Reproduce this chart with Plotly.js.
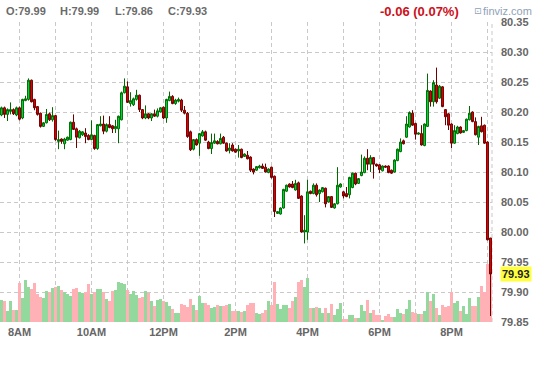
<!DOCTYPE html>
<html><head><meta charset="utf-8">
<script src="https://cdn.plot.ly/plotly-3.0.1.min.js"></script>
<style>html,body{margin:0;padding:0;background:#fff;}#chart{width:536px;height:370px;}</style>
</head><body><div id="chart"></div>
<script>
// ---- data (5-minute bars starting 07:30) ----
const sessionDate = '2024-01-02';
const firstBarMinute = 7 * 60 + 30;
const barMinutes = 5;

const openP = [80.195,80.207,80.196,80.201,80.204,80.195,80.207,80.19,80.219,80.221,
80.253,80.221,80.209,80.198,80.176,80.182,80.197,80.187,80.194,80.151,
80.155,80.147,80.153,80.154,80.183,80.172,80.157,80.162,80.165,80.161,
80.154,80.161,80.139,80.177,80.18,80.168,80.179,80.177,80.172,80.172,
80.187,80.232,80.242,80.214,80.212,80.221,80.228,80.204,80.19,80.197,
80.19,80.197,80.193,80.2,80.208,80.19,80.219,80.226,80.214,80.218,
80.22,80.203,80.198,80.167,80.138,80.154,80.148,80.16,80.167,80.15,
80.139,80.148,80.151,80.147,80.158,80.148,80.136,80.145,80.138,80.135,
80.138,80.126,80.128,80.125,80.105,80.103,80.107,80.11,80.108,80.099,
80.108,80.093,80.031,80.03,80.04,80.068,80.08,80.08,80.07,80.082,
80.06,80.0,80.0,80.068,80.064,80.078,80.064,80.067,80.073,80.05,
80.059,80.04,80.047,80.075,80.067,80.064,80.062,80.074,80.098,80.081,
80.094,80.099,80.123,80.113,80.124,80.113,80.112,80.102,80.11,80.11,
80.103,80.1,80.119,80.134,80.152,80.158,80.175,80.198,80.181,80.163,
80.164,80.144,80.176,80.235,80.217,80.245,80.223,80.242,80.204,80.197,
80.18,80.148,80.164,80.175,80.166,80.169,80.187,80.2,80.184,80.158,
80.177,80.178,80.15,79.99];

const highP = [80.209,80.209,80.206,80.216,80.206,80.209,80.209,80.222,80.227,80.256,
80.254,80.222,80.21,80.199,80.183,80.205,80.199,80.208,80.195,80.169,
80.156,80.157,80.159,80.184,80.196,80.174,80.17,80.168,80.173,80.163,
80.186,80.162,80.18,80.193,80.194,80.181,80.193,80.178,80.187,80.194,
80.234,80.256,80.251,80.233,80.224,80.237,80.229,80.205,80.211,80.198,
80.198,80.204,80.206,80.208,80.209,80.222,80.234,80.228,80.222,80.224,
80.222,80.21,80.2,80.169,80.155,80.156,80.165,80.17,80.169,80.152,
80.164,80.164,80.153,80.164,80.16,80.149,80.148,80.148,80.139,80.145,
80.139,80.131,80.135,80.126,80.106,80.11,80.112,80.114,80.114,80.106,
80.109,80.094,80.035,80.041,80.072,80.079,80.081,80.085,80.087,80.084,
80.061,80.028,80.087,80.069,80.081,80.081,80.071,80.075,80.074,80.06,
80.06,80.048,80.108,80.081,80.068,80.075,80.092,80.099,80.099,80.09,
80.129,80.126,80.138,80.128,80.125,80.114,80.113,80.111,80.111,80.111,
80.104,80.121,80.139,80.156,80.154,80.193,80.201,80.203,80.182,80.166,
80.178,80.181,80.264,80.236,80.253,80.274,80.245,80.243,80.205,80.198,
80.181,80.178,80.177,80.176,80.17,80.189,80.21,80.201,80.191,80.177,
80.192,80.179,80.151,79.99];

const lowP = [80.193,80.19,80.185,80.196,80.195,80.193,80.186,80.188,80.218,80.219,
80.216,80.203,80.194,80.174,80.175,80.181,80.185,80.184,80.152,80.138,
80.147,80.138,80.152,80.153,80.17,80.14,80.156,80.16,80.148,80.153,
80.153,80.137,80.137,80.176,80.163,80.166,80.173,80.165,80.165,80.148,
80.186,80.231,80.215,80.209,80.21,80.219,80.2,80.188,80.188,80.188,
80.185,80.192,80.191,80.199,80.188,80.182,80.218,80.213,80.212,80.216,
80.2,80.196,80.157,80.135,80.136,80.144,80.127,80.159,80.152,80.138,
80.13,80.147,80.146,80.146,80.147,80.134,80.131,80.134,80.132,80.124,
80.123,80.125,80.121,80.1,80.096,80.102,80.106,80.105,80.099,80.098,
80.089,80.025,80.03,80.029,80.039,80.067,80.074,80.073,80.069,80.055,
79.999,79.981,79.987,80.063,80.063,80.059,80.05,80.066,80.041,80.049,
80.04,80.039,80.046,80.074,80.056,80.058,80.056,80.073,80.078,80.08,
80.093,80.098,80.103,80.1,80.089,80.109,80.098,80.101,80.107,80.098,
80.097,80.099,80.118,80.133,80.146,80.157,80.174,80.177,80.154,80.162,
80.144,80.143,80.175,80.209,80.209,80.214,80.222,80.208,80.178,80.17,
80.14,80.147,80.163,80.164,80.165,80.168,80.186,80.183,80.161,80.145,
80.166,80.147,79.986,79.86];

const closeP = [80.207,80.196,80.204,80.204,80.197,80.207,80.188,80.221,80.222,80.253,
80.217,80.207,80.196,80.176,80.182,80.196,80.187,80.194,80.154,80.154,
80.151,80.155,80.158,80.183,80.171,80.158,80.168,80.167,80.159,80.154,
80.162,80.139,80.179,80.18,80.168,80.179,80.174,80.172,80.176,80.193,
80.232,80.243,80.216,80.219,80.222,80.228,80.204,80.19,80.197,80.19,
80.197,80.193,80.202,80.207,80.19,80.221,80.226,80.214,80.22,80.221,
80.203,80.198,80.159,80.137,80.154,80.145,80.164,80.167,80.153,80.139,
80.149,80.152,80.147,80.156,80.148,80.135,80.14,80.135,80.133,80.138,
80.124,80.13,80.122,80.103,80.1,80.109,80.11,80.106,80.1,80.105,
80.091,80.034,80.034,80.04,80.071,80.078,80.075,80.074,80.081,80.056,
80.0,80.003,80.067,80.064,80.078,80.062,80.07,80.074,80.047,80.059,
80.041,80.047,80.078,80.08,80.06,80.059,80.091,80.098,80.08,80.089,
80.1,80.123,80.113,80.124,80.113,80.11,80.104,80.11,80.108,80.099,
80.098,80.12,80.138,80.15,80.147,80.18,80.199,80.178,80.163,80.165,
80.145,80.18,80.236,80.217,80.249,80.217,80.243,80.209,80.192,80.178,
80.148,80.169,80.175,80.165,80.169,80.188,80.198,80.184,80.162,80.176,
80.167,80.148,79.987,79.93];

const volume = [22,21,11,21,12,12,39,24,42,35,33,39,28,25,24,31,30,34,35,36,
32,30,28,26,33,34,30,29,30,38,28,30,33,33,30,23,21,31,32,40,
39,38,32,28,31,27,24,25,31,29,21,16,22,23,21,20,16,13,9,9,
18,17,15,23,17,12,26,19,19,17,14,15,17,16,16,17,18,11,11,11,
10,11,17,19,19,9,8,9,12,21,17,40,18,13,17,17,14,21,25,40,
42,35,44,14,14,15,14,9,14,9,18,7,13,19,3,3,7,7,4,4,
17,11,22,9,12,7,7,2,6,8,5,5,13,9,8,13,22,10,9,8,
8,11,30,21,28,14,7,17,15,16,30,19,21,11,16,8,24,16,16,25,
36,30,58,58];

const hourTicks = ['08:00','09:00','10:00','11:00','12:00','13:00','14:00','15:00','16:00','17:00','18:00','19:00','20:00','21:00'];
const hourLabels = ['8AM','','10AM','','12PM','','2PM','','4PM','','6PM','','8PM',''];
const priceTicks = [79.85,79.90,79.95,80.00,80.05,80.10,80.15,80.20,80.25,80.30,80.35];
const changeText = '-0.06 (0.07%)';
const brandIcon = '\u22A1';
const brandText = 'finviz.com';

// ---- build ----
function stamp(totalMinutes){
  const h = Math.floor(totalMinutes/60), m = Math.floor(totalMinutes%60), s = Math.round((totalMinutes*60)%60);
  const p = n => String(n).padStart(2,'0');
  return sessionDate + ' ' + p(h) + ':' + p(m) + ':' + p(s);
}
const times = openP.map((_, i) => stamp(firstBarMinute + i*barMinutes));
const volColors = openP.map((o, i) => closeP[i] >= o ? '#93d89d' : '#ffb1b6');
const last = closeP.length - 1;

const FONT = 'Liberation Sans, Arial, sans-serif';
const GRID = '#c9c9c9';
const tickFont = {family: FONT, size: 11, color: '#666666', weight: 'bold'};

const traces = [
  {type:'bar', x: times, y: volume, marker:{color: volColors, line:{width:0}}, yaxis:'y', hoverinfo:'skip'},
  {type:'candlestick', x: times, open: openP, high: highP, low: lowP, close: closeP, yaxis:'y2',
   whiskerwidth: 0,
   increasing:{line:{color:'#006a00', width:1}, fillcolor:'#00e040'},
   decreasing:{line:{color:'#6e0000', width:1}, fillcolor:'#e80000'},
   hoverinfo:'skip'}
];

const hdrY = 1 + 11/300;
const px = v => v/492;
const layout = {
  width: 536, height: 370,
  margin: {l:0, r:44, t:22, b:48, pad:0},
  paper_bgcolor:'#ffffff', plot_bgcolor:'#ffffff',
  showlegend: false,
  bargap: 0,
  boxgap: 0.1,
  font: {family: FONT},
  xaxis: {
    type:'date',
    range: [stamp(firstBarMinute - 2.5), stamp(firstBarMinute - 2.5 + 492*(60/36))],
    tickmode:'array', tickvals: hourTicks.map(t => sessionDate + ' ' + t), ticktext: hourLabels,
    showgrid: true, gridcolor: GRID, griddash: '4px,3px', gridwidth: 1,
    ticks: '', showline: false, zeroline: false,
    tickfont: tickFont, ticklabelstandoff: 2,
    rangeslider: {visible: false}, fixedrange: true
  },
  yaxis: {range:[0,300], visible:false, showgrid:false, zeroline:false, fixedrange:true},
  yaxis2: {
    overlaying:'y', side:'right', range:[79.85, 80.35],
    tickmode:'array', tickvals: priceTicks, ticktext: priceTicks.map(v => v.toFixed(2)),
    showgrid:true, gridcolor: GRID, griddash:'4px,3px', gridwidth:1,
    zeroline:false, showline:false, ticks:'', tickfont: tickFont, ticklabelstandoff: 8,
    fixedrange:true
  },
  shapes: [
    {type:'line', xref:'paper', yref:'paper', x0:1, x1:1, y0:0, y1:1, layer:'below',
     line:{color: GRID, width:1, dash:'4px,3px'}}
  ],
  annotations: [
    {xref:'paper', yref:'paper', x:px(4), y:hdrY, xanchor:'left', yanchor:'middle', showarrow:false,
     text:'O:' + openP[last].toFixed(2), font:{family:FONT, size:11, color:'#6a6a6a', weight:'bold'}},
    {xref:'paper', yref:'paper', x:px(58), y:hdrY, xanchor:'left', yanchor:'middle', showarrow:false,
     text:'H:' + highP[last].toFixed(2), font:{family:FONT, size:11, color:'#6a6a6a', weight:'bold'}},
    {xref:'paper', yref:'paper', x:px(113), y:hdrY, xanchor:'left', yanchor:'middle', showarrow:false,
     text:'L:' + lowP[last].toFixed(2), font:{family:FONT, size:11, color:'#6a6a6a', weight:'bold'}},
    {xref:'paper', yref:'paper', x:px(166), y:hdrY, xanchor:'left', yanchor:'middle', showarrow:false,
     text:'C:' + closeP[last].toFixed(2), font:{family:FONT, size:11, color:'#6a6a6a', weight:'bold'}},
    {xref:'paper', yref:'paper', x:px(378), y:hdrY, xanchor:'left', yanchor:'middle', showarrow:false,
     text: changeText, font:{family:FONT, size:13, color:'#cc1020', weight:'bold'}},
    {xref:'paper', yref:'paper', x:px(484), y:hdrY, xanchor:'right', yanchor:'middle', showarrow:false,
     text: brandIcon, font:{family:'DejaVu Sans', size:9, color:'#8ea2b6'}},
    {xref:'paper', yref:'paper', x:px(534), y:hdrY, xanchor:'right', yanchor:'middle', showarrow:false,
     text: brandText, font:{family:FONT, size:11, color:'#8ea2b6'}},
    {xref:'paper', yref:'y2', x:px(500), y: closeP[last], xanchor:'left', yanchor:'middle', showarrow:false,
     text: closeP[last].toFixed(2), bgcolor:'#ffff40', borderpad:1,
     font:{family:FONT, size:11, color:'#222222', weight:'bold'}}
  ]
};

Plotly.newPlot('chart', traces, layout, {staticPlot:true, displayModeBar:false});
</script>
</body></html>
